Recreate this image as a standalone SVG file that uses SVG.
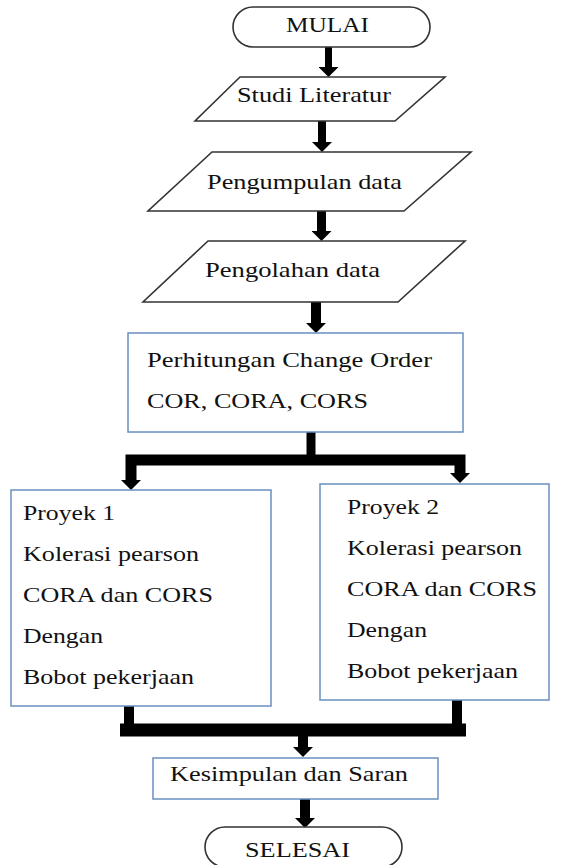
<svg xmlns="http://www.w3.org/2000/svg" width="567" height="865" viewBox="0 0 567 865">
<style>
.term{fill:#fff;stroke:#333;stroke-width:1.6}
.para{fill:#fff;stroke:#333;stroke-width:1.6}
.box{fill:#fff;stroke:#6a8fc0;stroke-width:1.5}
.t{font-family:"Liberation Serif","DejaVu Serif",serif;font-size:21px;fill:#111}
.c{fill:none;stroke:#000;stroke-linejoin:miter;stroke-linecap:butt}
</style>
<defs>
<marker id="ah" markerUnits="userSpaceOnUse" viewBox="0 0 10 20" markerWidth="10" markerHeight="20" refX="0" refY="10" orient="auto">
<path d="M0,0 L10,10 L0,20 z" fill="#000"/>
</marker>
</defs>
<rect width="567" height="865" fill="#fff"/>
<g id="connectors">
<path class="c" d="M328.5,47 V67" stroke-width="7" marker-end="url(#ah)"/>
<path class="c" d="M322,121 V142" stroke-width="8" marker-end="url(#ah)"/>
<path class="c" d="M321.5,211 V231" stroke-width="9" marker-end="url(#ah)"/>
<path class="c" d="M316,302 V323" stroke-width="10" marker-end="url(#ah)"/>
<path class="c" d="M311,432 V460" stroke-width="9"/>
<path class="c" d="M311,460 H131 V480" stroke-width="11" marker-end="url(#ah)"/>
<path class="c" d="M311,460 H460 V473" stroke-width="11" marker-end="url(#ah)"/>
<path class="c" d="M129,706 V730 H303" stroke-width="10"/>
<path class="c" d="M457,700 V730 H303" stroke-width="10"/>
<path class="c" d="M120,730 H466" stroke-width="13"/>
<path class="c" d="M303,736 V747" stroke-width="10" marker-end="url(#ah)"/>
<path class="c" d="M305,799 V818" stroke-width="10" marker-end="url(#ah)"/>
</g>
<g id="mulai">
<rect class="term" x="233" y="7" width="197" height="40" rx="20"/>
<text class="t" x="286" y="32" textLength="83" lengthAdjust="spacingAndGlyphs">MULAI</text>
</g>
<g id="studi">
<polygon class="para" points="240,77 445,77 395,121 195,121"/>
<text class="t" x="237" y="102" textLength="154" lengthAdjust="spacingAndGlyphs">Studi Literatur</text>
</g>
<g id="pengumpulan">
<polygon class="para" points="212,152 471,152 404,211 148,211"/>
<text class="t" x="207" y="189" textLength="195" lengthAdjust="spacingAndGlyphs">Pengumpulan data</text>
</g>
<g id="pengolahan">
<polygon class="para" points="208,241 465,241 398,302 143,302"/>
<text class="t" x="205" y="277" textLength="175" lengthAdjust="spacingAndGlyphs">Pengolahan data</text>
</g>
<g id="perhitungan">
<rect class="box" x="128" y="333" width="335" height="99"/>
<text class="t" x="147" y="367" textLength="285" lengthAdjust="spacingAndGlyphs">Perhitungan Change Order</text>
<text class="t" x="147" y="408" textLength="221" lengthAdjust="spacingAndGlyphs">COR, CORA, CORS</text>
</g>
<g id="proyek1">
<rect class="box" x="11" y="490" width="260" height="216"/>
<text class="t" x="23" y="520" textLength="92" lengthAdjust="spacingAndGlyphs">Proyek 1</text>
<text class="t" x="23" y="561" textLength="176" lengthAdjust="spacingAndGlyphs">Kolerasi pearson</text>
<text class="t" x="23" y="602" textLength="190" lengthAdjust="spacingAndGlyphs">CORA dan CORS</text>
<text class="t" x="23" y="643" textLength="80" lengthAdjust="spacingAndGlyphs">Dengan</text>
<text class="t" x="23" y="684" textLength="171" lengthAdjust="spacingAndGlyphs">Bobot pekerjaan</text>
</g>
<g id="proyek2">
<rect class="box" x="320" y="484" width="229" height="216"/>
<text class="t" x="347" y="514" textLength="92" lengthAdjust="spacingAndGlyphs">Proyek 2</text>
<text class="t" x="347" y="555" textLength="175" lengthAdjust="spacingAndGlyphs">Kolerasi pearson</text>
<text class="t" x="347" y="596" textLength="190" lengthAdjust="spacingAndGlyphs">CORA dan CORS</text>
<text class="t" x="347" y="637" textLength="80" lengthAdjust="spacingAndGlyphs">Dengan</text>
<text class="t" x="347" y="678" textLength="171" lengthAdjust="spacingAndGlyphs">Bobot pekerjaan</text>
</g>
<g id="kesimpulan">
<rect class="box" x="153" y="758" width="285" height="41"/>
<text class="t" x="170" y="781" textLength="238" lengthAdjust="spacingAndGlyphs">Kesimpulan dan Saran</text>
</g>
<g id="selesai">
<rect class="term" x="205" y="827" width="197" height="40" rx="20"/>
<text class="t" x="245" y="857" textLength="105" lengthAdjust="spacingAndGlyphs">SELESAI</text>
</g>
</svg>
